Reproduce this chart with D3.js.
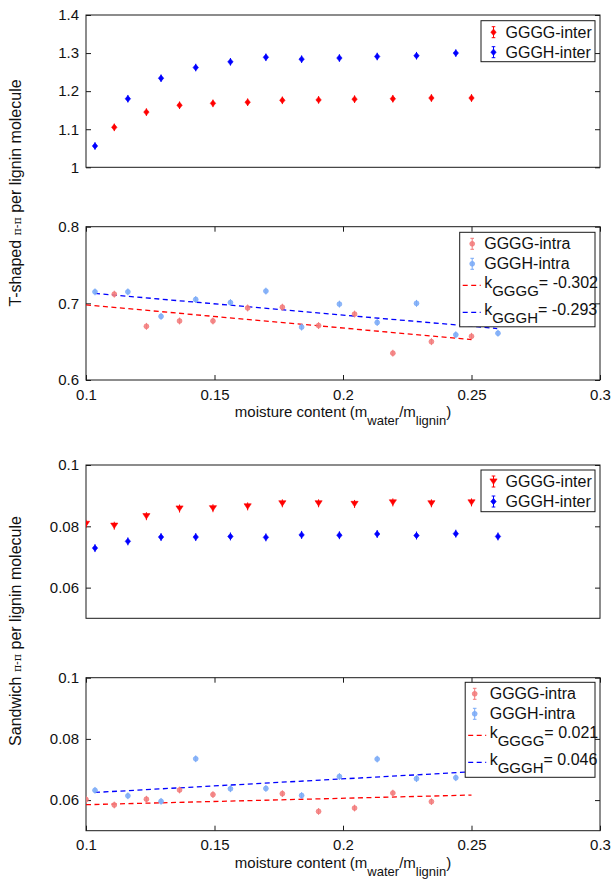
<!DOCTYPE html>
<html><head><meta charset="utf-8">
<script src="https://cdn.jsdelivr.net/npm/d3@7"></script>
<style>
body{margin:0;background:#fff;}
svg{display:block;font-family:"Liberation Sans",Arial,Helvetica,sans-serif;}
</style></head>
<body><svg id="c" width="612" height="880"></svg>
<script>
// ---------- data ----------
const xGGGG = [0.1, 0.111, 0.1235, 0.1364, 0.1494, 0.1629, 0.1764, 0.1905, 0.2045, 0.2194, 0.2344, 0.25];
const xGGGH = [0.1035, 0.1163, 0.1292, 0.1427, 0.1562, 0.17, 0.1839, 0.1986, 0.2133, 0.2286, 0.2439, 0.2603];

const tInterGGGG = [null, 1.105, 1.145, 1.163, 1.168, 1.171, 1.176, 1.177, 1.179, 1.180, 1.182, 1.182];
const tInterGGGH = [1.056, 1.180, 1.234, 1.262, 1.277, 1.289, 1.284, 1.287, 1.291, 1.293, 1.300, null];
const tIntraGGGG = [null, 0.712, 0.670, 0.677, 0.677, 0.694, 0.695, 0.671, 0.686, 0.635, 0.650, 0.657];
const tIntraGGGH = [0.715, 0.715, 0.683, 0.705, 0.701, 0.716, 0.669, 0.699, 0.675, 0.700, 0.659, 0.661];

const sInterGGGG = [0.0808, 0.0802, 0.0833, 0.0858, 0.0859, 0.0865, 0.0875, 0.0875, 0.0873, 0.0878, 0.0875, 0.0878];
const sInterGGGH = [0.0729, 0.0751, 0.0765, 0.0765, 0.0767, 0.0764, 0.0772, 0.0771, 0.0775, 0.0770, 0.0776, 0.0767];
const sIntraGGGG = [0.0602, 0.0584, 0.0603, 0.0633, 0.0618, null, 0.0621, 0.0563, 0.0574, 0.0623, 0.0595, null];
const sIntraGGGH = [0.0632, 0.0614, 0.0596, 0.0735, 0.0637, 0.0638, 0.0615, 0.0677, 0.0734, 0.0670, 0.0673, null];

// error half-widths (data units)
const errTInter = 0.010, errTIntra = 0.0045, errSInter = 0.0013, errSIntra = 0.0011;

// linear fits: slope k, start x, end x, value at start, legend label
const fitT = [
  {name:"GGGG", k:-0.302, label:"= -0.302", x0:0.1,    x1:0.25, y0:0.698,  color:"#ff0000"},
  {name:"GGGH", k:-0.293, label:"= -0.293", x0:0.1035, x1:0.26, y0:0.713,  color:"#0000ff"}
];
const fitS = [
  {name:"GGGG", k:0.021,  label:"= 0.021",  x0:0.1,    x1:0.25, y0:0.0585, color:"#ff0000"},
  {name:"GGGH", k:0.046,  label:"= 0.046",  x0:0.1035, x1:0.26, y0:0.0625, color:"#0000ff"}
];

const xTicks = [0.1, 0.15, 0.2, 0.25, 0.3];
const yTicksT1 = [1, 1.1, 1.2, 1.3, 1.4];
const yTicksT2 = [0.6, 0.7, 0.8];
const yTicksS = [0.06, 0.08, 0.1];

// ---------- drawing ----------
const svg = d3.select("#c");
const X0 = 86, X1 = 600;
const RED = "#ff0000", BLUE = "#0000ff", LRED = "#f27a7a", LBLUE = "#7aaaf7";
const AX = "#1a1a1a";

const diamond = (s, cx, cy, w, h, c) => s.append("path")
  .attr("d", `M${cx},${cy-h}L${cx+w},${cy}L${cx},${cy+h}L${cx-w},${cy}Z`).attr("fill", c).attr("stroke", c).attr("stroke-width", 0.6);
const triDown = (s, cx, cy, c) => s.append("path")
  .attr("d", `M${cx-3.6},${cy-2.6}L${cx+3.6},${cy-2.6}L${cx},${cy+2.8}Z`).attr("fill", c).attr("stroke", c).attr("stroke-width", 0.6);
const circ = (s, cx, cy, c) => s.append("circle").attr("cx", cx).attr("cy", cy).attr("r", 2.4)
  .attr("fill", c).attr("stroke", c).attr("stroke-width", 0.8).attr("fill-opacity", 0.85);

function errbar(s, cx, yTop, yBot, c, cap) {
  s.append("line").attr("x1", cx).attr("x2", cx).attr("y1", yTop).attr("y2", yBot).attr("stroke", c).attr("stroke-width", 1);
  if (cap) {
    s.append("line").attr("x1", cx-cap).attr("x2", cx+cap).attr("y1", yTop).attr("y2", yTop).attr("stroke", c).attr("stroke-width", 1);
    s.append("line").attr("x1", cx-cap).attr("x2", cx+cap).attr("y1", yBot).attr("y2", yBot).attr("stroke", c).attr("stroke-width", 1);
  }
}

function marker(s, type, cx, cy, c) {
  if (type === "diamond") diamond(s, cx, cy, 2.7, 3.2, c);
  else if (type === "tri") triDown(s, cx, cy, c);
  else circ(s, cx, cy, c);
}

let clipId = 0;
function panel(cfg) {
  const x = d3.scaleLinear().domain([0.1, 0.3]).range([X0, X1]);
  const y = d3.scaleLinear().domain(cfg.yDomain).range([cfg.bottom, cfg.top]);
  const g = svg.append("g");
  const id = "clip" + (clipId++);
  svg.append("clipPath").attr("id", id).append("rect")
    .attr("x", X0).attr("y", cfg.top).attr("width", X1 - X0).attr("height", cfg.bottom - cfg.top);

  const yl = d3.axisLeft(y).tickValues(cfg.yTicks).tickSize(-5).tickPadding(7).tickFormat(d3.format("~g"));
  const yr = d3.axisRight(y).tickValues(cfg.yTicks).tickSize(-5).tickFormat("");
  const ga = g.append("g").attr("transform", `translate(${X0},0)`).call(yl);
  const gb = g.append("g").attr("transform", `translate(${X1},0)`).call(yr);
  [ga, gb].forEach(a => { a.select(".domain").remove(); a.selectAll("line").attr("stroke", AX); });
  ga.selectAll("text").attr("font-size", 15).attr("fill", "#111").attr("font-family", "Liberation Sans, Arial, sans-serif");
  if (cfg.xAxis) {
    const xb = d3.axisBottom(x).tickValues(xTicks).tickSize(-5).tickPadding(9).tickFormat(d3.format("~g"));
    const xt = d3.axisTop(x).tickValues(xTicks).tickSize(-5).tickFormat("");
    const gx = g.append("g").attr("transform", `translate(0,${cfg.bottom})`).call(xb);
    const gt = g.append("g").attr("transform", `translate(0,${cfg.top})`).call(xt);
    [gx, gt].forEach(a => { a.select(".domain").remove(); a.selectAll("line").attr("stroke", AX); });
    gx.selectAll("text").attr("font-size", 15).attr("fill", "#111").attr("font-family", "Liberation Sans, Arial, sans-serif");
    const lab = g.append("text").attr("x", 343).attr("y", cfg.bottom + 37)
      .attr("text-anchor", "middle").attr("font-size", 15).attr("fill", "#111");
    lab.append("tspan").text("moisture content (m");
    lab.append("tspan").attr("font-size", 13).attr("dy", 8).text("water");
    lab.append("tspan").attr("dy", -8).text("/m");
    lab.append("tspan").attr("font-size", 13).attr("dy", 8).text("lignin");
    lab.append("tspan").attr("dy", -8).text(")");
  }
  g.append("rect").attr("x", X0).attr("y", cfg.top).attr("width", X1 - X0).attr("height", cfg.bottom - cfg.top)
    .attr("fill", "none").attr("stroke", AX).attr("stroke-width", 1);

  const plot = g.append("g").attr("clip-path", `url(#${id})`);
  (cfg.fits || []).forEach(f => {
    const pts = [[f.x0, f.y0], [f.x1, f.y0 + f.k * (f.x1 - f.x0)]];
    plot.append("path").attr("d", d3.line().x(d => x(d[0])).y(d => y(d[1]))(pts))
      .attr("stroke", f.color).attr("stroke-width", 1.3).attr("stroke-dasharray", "5,3.5").attr("fill", "none");
  });
  cfg.series.forEach(s => {
    s.xs.forEach((xv, i) => {
      const v = s.ys[i];
      if (v == null) return;
      const cx = x(xv), cy = y(v);
      errbar(plot, cx, y(v + s.err), y(v - s.err), s.color, 0);
      marker(plot, s.marker, cx, cy, s.color);
    });
  });

  const L = cfg.legend;
  const lg = g.append("g");
  lg.append("rect").attr("x", L.x).attr("y", L.y).attr("width", X1 - 5 - L.x).attr("height", L.h)
    .attr("fill", "#fff").attr("stroke", AX).attr("stroke-width", 1);
  cfg.series.forEach((s, i) => {
    const cy = L.y + 11.5 + 20 * i;
    const cx = L.x + L.icon;
    errbar(lg, cx, cy - 5.5, cy + 5.5, s.color, 1.8);
    marker(lg, s.marker, cx, cy, s.color);
    lg.append("text").attr("x", L.x + L.text).attr("y", cy + 5.6).attr("font-size", 16).attr("fill", "#111").text(s.name);
  });
  (cfg.fits || []).forEach((f, i) => {
    const base = L.y + 56 + 27 * i;
    lg.append("line").attr("x1", L.x + 3).attr("x2", L.x + 21).attr("y1", base - 3).attr("y2", base - 3)
      .attr("stroke", f.color).attr("stroke-width", 1.3).attr("stroke-dasharray", "5,3.5");
    const t = lg.append("text").attr("x", L.x + L.text).attr("y", base).attr("font-size", 16).attr("fill", "#111");
    t.append("tspan").text("k");
    t.append("tspan").attr("dy", 8).attr("font-size", 15).text(f.name);
    t.append("tspan").attr("dy", -8).text(f.label);
  });
}

panel({yDomain:[1, 1.4], top:15, bottom:167.3, yTicks:yTicksT1, xAxis:false,
  series:[
    {name:"GGGG-inter", xs:xGGGG, ys:tInterGGGG, color:RED, marker:"diamond", err:errTInter},
    {name:"GGGH-inter", xs:xGGGH, ys:tInterGGGH, color:BLUE, marker:"diamond", err:errTInter}],
  legend:{x:481, y:20.7, h:41, icon:12.5, text:24.5}});

panel({yDomain:[0.6, 0.8], top:226.7, bottom:380, yTicks:yTicksT2, xAxis:true, fits:fitT,
  series:[
    {name:"GGGG-intra", xs:xGGGG, ys:tIntraGGGG, color:LRED, marker:"circle", err:errTIntra},
    {name:"GGGH-intra", xs:xGGGH, ys:tIntraGGGH, color:LBLUE, marker:"circle", err:errTIntra}],
  legend:{x:459.7, y:232.3, h:94.5, icon:12.5, text:24.5}});

panel({yDomain:[0.05, 0.1], top:465, bottom:618.3, yTicks:yTicksS, xAxis:false,
  series:[
    {name:"GGGG-inter", xs:xGGGG, ys:sInterGGGG, color:RED, marker:"tri", err:errSInter},
    {name:"GGGH-inter", xs:xGGGH, ys:sInterGGGH, color:BLUE, marker:"diamond", err:errSInter}],
  legend:{x:481, y:470, h:41.7, icon:12.5, text:24.5}});

panel({yDomain:[0.05, 0.1], top:677.7, bottom:830.7, yTicks:yTicksS, xAxis:true, fits:fitS,
  series:[
    {name:"GGGG-intra", xs:xGGGG, ys:sIntraGGGG, color:LRED, marker:"circle", err:errSIntra},
    {name:"GGGH-intra", xs:xGGGH, ys:sIntraGGGH, color:LBLUE, marker:"circle", err:errSIntra}],
  legend:{x:465.2, y:682.3, h:95, icon:9.5, text:24.5}});

function ytitle(cy, word) {
  const t = svg.append("text").attr("transform", `translate(21,${cy}) rotate(-90)`)
    .attr("text-anchor", "middle").attr("font-size", 16).attr("fill", "#111");
  t.append("tspan").text(word + " ");
  t.append("tspan").attr("font-family", "DejaVu Serif, serif").attr("font-size", 11).text("\u03C0-\u03C0");
  t.append("tspan").text(" per lignin molecule");
}
ytitle(193, "T-shaped");
ytitle(631, "Sandwich");
</script></body></html>
